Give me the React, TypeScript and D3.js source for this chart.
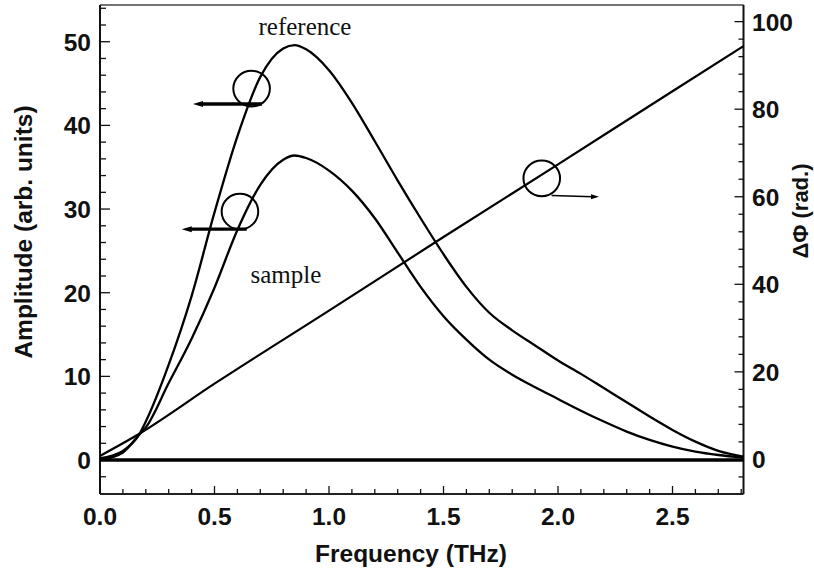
import React from "react";
import * as d3 from "d3";

// Frequency grid (THz)
const freq = [0, 0.05, 0.1, 0.17, 0.2, 0.3, 0.4, 0.5, 0.6, 0.7, 0.8, 0.85, 0.9, 1.0, 1.1, 1.2, 1.3, 1.4, 1.5, 1.6, 1.7, 1.8, 1.9, 2.0, 2.1, 2.2, 2.3, 2.4, 2.5, 2.6, 2.7, 2.81];
// Reference amplitude (arb. units)
const referenceAmp = [0.2, 0.5, 1.1, 3.0, 4.6, 11.4, 19.6, 29.6, 38.7, 45.8, 49.2, 49.6, 49.1, 46.6, 42.7, 38.1, 33.4, 28.9, 24.6, 20.7, 17.6, 15.5, 13.7, 11.9, 10.3, 8.6, 6.9, 5.2, 3.6, 2.2, 1.1, 0.4];
// Sample amplitude (arb. units)
const sampleAmp = [0.0, 0.3, 0.9, 3.0, 3.9, 9.2, 14.5, 20.6, 27.5, 32.9, 35.9, 36.4, 36.1, 34.6, 32.2, 28.9, 24.8, 20.7, 17.2, 14.4, 12.0, 10.2, 8.7, 7.3, 5.9, 4.6, 3.4, 2.4, 1.6, 1.0, 0.6, 0.3];
// Phase difference (rad.)
const phaseFreq = [0, 0.17, 0.5, 1.0, 1.5, 2.0, 2.5, 2.81];
const phaseVal = [0.8, 5.8, 17.3, 34.0, 50.8, 67.4, 84.1, 94.4];

const xTicks = [0, 0.5, 1.0, 1.5, 2.0, 2.5];
const xTickLabels = ["0.0", "0.5", "1.0", "1.5", "2.0", "2.5"];
const yLeftTicks = [0, 10, 20, 30, 40, 50];
const yRightTicks = [0, 20, 40, 60, 80, 100];

const W = 814, H = 574;
const x = d3.scaleLinear().domain([0, 2.81]).range([100, 743.5]);
const yL = d3.scaleLinear().domain([-4.06, 54.39]).range([494, 5]);
const yR = d3.scaleLinear().domain([-7.9, 103.8]).range([494, 5]);

const sans = "'Liberation Sans', Arial, Helvetica, sans-serif";
const serif = "'Liberation Serif', 'Times New Roman', serif";

export default function App() {
  const ampLine = (vals: number[]) =>
    d3.line<number>().x((_, i) => x(freq[i])).y((d) => yL(d)).curve(d3.curveMonotoneX)(vals) || "";
  const refPath = ampLine(referenceAmp);
  const samPath = ampLine(sampleAmp);
  const phPath = d3.line<number>().x((_, i) => x(phaseFreq[i])).y((d) => yR(d)).curve(d3.curveMonotoneX)(phaseVal) || "";

  const minorX = d3.range(0, 2.81, 0.1);
  const minorL = d3.range(-2, 54.4, 2);
  const minorR = d3.range(-4, 103.9, 4);

  const leftArrow = (f0: number, f1: number, a: number, key: string) => {
    const y = yL(a);
    const x0 = x(f0), x1 = x(f1);
    return (
      <g key={key}>
        <line x1={x0 + 8} x2={x1} y1={y} y2={y} stroke="#000" strokeWidth={3.4} />
        <path d={`M${x0},${y} L${x0 + 10},${y - 3} L${x0 + 10},${y + 3} Z`} fill="#000" />
      </g>
    );
  };

  const px0 = x(1.972), py0 = yR(60.3), px1 = x(2.179), py1 = yR(60.0);

  return (
    <svg width={W} height={H} style={{ position: "absolute", left: 0, top: 0, background: "#fff" }}>
      <rect x={0} y={0} width={W} height={H} fill="#fff" />
      {/* frame */}
      <line x1={100} x2={743.5} y1={5} y2={5} stroke="#444" strokeWidth={1.3} />
      <line x1={100} x2={743.5} y1={494} y2={494} stroke="#222" strokeWidth={1.8} />
      <line x1={100} x2={100} y1={5} y2={494} stroke="#111" strokeWidth={2} />
      <line x1={743.5} x2={743.5} y1={5} y2={494} stroke="#111" strokeWidth={2} />

      {/* bottom ticks */}
      {minorX.map((t, i) => (
        <line key={"mx" + i} x1={x(t)} x2={x(t)} y1={494} y2={494 - (i % 5 === 0 ? 8 : 5)} stroke="#111" strokeWidth={1.3} />
      ))}
      {xTicks.map((t, i) => (
        <text key={"xl" + i} x={x(t)} y={525} textAnchor="middle" fontFamily={sans} fontWeight="bold" fontSize={24.5} fill="#111">
          {xTickLabels[i]}
        </text>
      ))}
      {/* left ticks */}
      {minorL.map((t, i) => (
        <line key={"ml" + i} x1={100} x2={100 + (t % 10 === 0 ? 10 : 6)} y1={yL(t)} y2={yL(t)} stroke="#111" strokeWidth={1.3} />
      ))}
      {yLeftTicks.map((t, i) => (
        <text key={"yl" + i} x={91} y={yL(t) + 9} textAnchor="end" fontFamily={sans} fontWeight="bold" fontSize={24.5} fill="#111">
          {t}
        </text>
      ))}
      {/* right ticks */}
      {minorR.map((t, i) => (
        <line key={"mr" + i} x1={743.5} x2={743.5 - (t % 20 === 0 ? 9 : 5)} y1={yR(t)} y2={yR(t)} stroke="#111" strokeWidth={1.3} />
      ))}
      {yRightTicks.map((t, i) => (
        <text key={"yr" + i} x={752} y={yR(t) + 9} textAnchor="start" fontFamily={sans} fontWeight="bold" fontSize={24.5} fill="#111">
          {t}
        </text>
      ))}

      {/* zero line */}
      <line x1={100} x2={743.5} y1={yL(0)} y2={yL(0)} stroke="#000" strokeWidth={3.4} />

      {/* curves */}
      <path d={phPath} fill="none" stroke="#000" strokeWidth={2.2} />
      <path d={refPath} fill="none" stroke="#000" strokeWidth={2.3} />
      <path d={samPath} fill="none" stroke="#000" strokeWidth={2.3} />

      {/* annotations */}
      <ellipse cx={x(0.662)} cy={yL(44.4)} rx={18.3} ry={17.8} fill="none" stroke="#000" strokeWidth={2} />
      {leftArrow(0.406, 0.707, 42.55, "ra")}
      <ellipse cx={x(0.611)} cy={yL(29.7)} rx={18.3} ry={17.8} fill="none" stroke="#000" strokeWidth={2} />
      {leftArrow(0.357, 0.641, 27.6, "sa")}
      <ellipse cx={x(1.929)} cy={yR(64.2)} rx={18.3} ry={17.8} fill="none" stroke="#000" strokeWidth={2} />
      <line x1={px0} y1={py0} x2={px1 - 6} y2={py1} stroke="#000" strokeWidth={1.4} />
      <path d={`M${px1},${py1} L${px1 - 8},${py1 - 2.5} L${px1 - 8},${py1 + 2.5} Z`} fill="#000" />

      <text x={x(0.895)} y={yL(50.8)} textAnchor="middle" fontFamily={serif} fontSize={25} fill="#111">reference</text>
      <text x={x(0.812)} y={yL(21.2)} textAnchor="middle" fontFamily={serif} fontSize={25} fill="#111">sample</text>

      {/* axis titles */}
      <text x={411} y={562} textAnchor="middle" fontFamily={sans} fontWeight="bold" fontSize={24.5} fill="#111">Frequency (THz)</text>
      <text transform="translate(32,232) rotate(-90)" textAnchor="middle" fontFamily={sans} fontWeight="bold" fontSize={24.5} fill="#111">Amplitude (arb. units)</text>
      <text transform="translate(808,211) rotate(-90)" textAnchor="middle" fontFamily={sans} fontWeight="bold" fontSize={22} fill="#111">ΔΦ (rad.)</text>
    </svg>
  );
}
